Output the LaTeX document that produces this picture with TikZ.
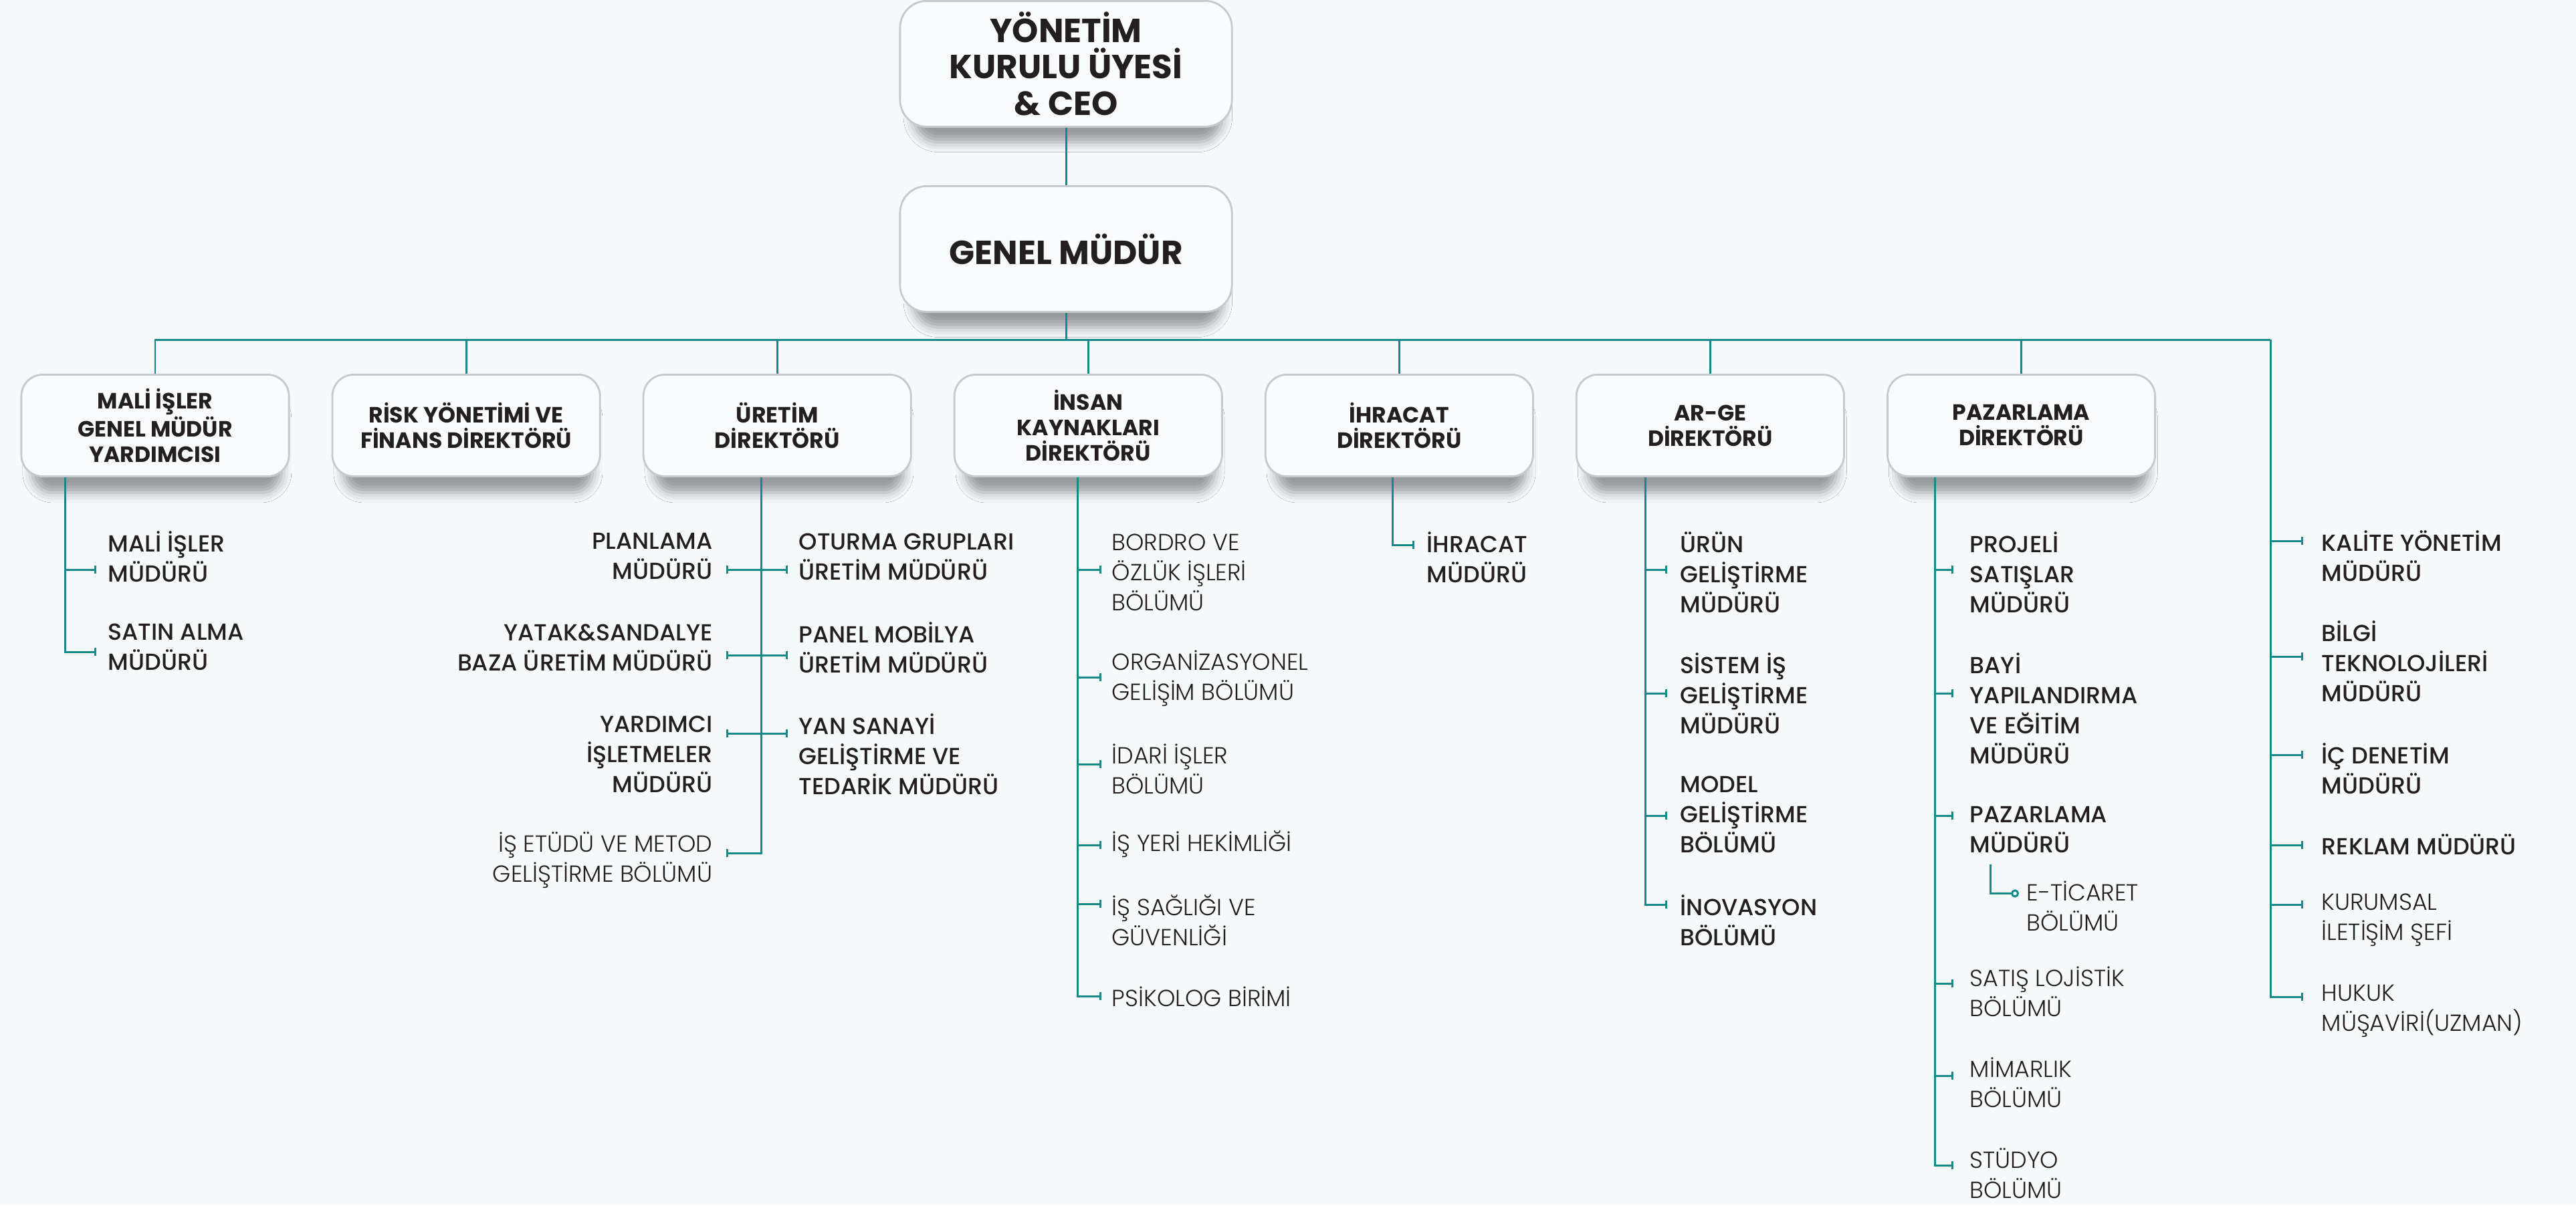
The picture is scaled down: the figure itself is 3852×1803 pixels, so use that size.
\documentclass[tikz,border=0pt]{standalone}
\usepackage{fontspec}
\setmainfont{Poppins}
\IfFontExistsTF{Poppins Medium}{\newfontfamily\medfont{Poppins Medium}}{\newcommand{\medfont}{\bfseries}}
\IfFontExistsTF{Poppins Light}{\newfontfamily\bookfont{Poppins Light}}{\newcommand{\bookfont}{\mdseries}}
\usepackage{xcolor}
\usetikzlibrary{positioning, arrows.meta, shadows.blur}
\definecolor{teal1}{HTML}{17898A}
\definecolor{bgcol}{HTML}{F7FAFB}
\definecolor{boxfill}{HTML}{F9FBFC}
\definecolor{boxline}{HTML}{C6CACD}
\definecolor{ink}{HTML}{231F20}
\tikzstyle{dirbox} = [rectangle, rounded corners=0.32cm, minimum width=4cm, minimum height=1.52cm, align=center, draw=boxline, line width=0.8pt, fill=boxfill, text=ink, font=\bfseries\fontsize{9.4}{10.8}\selectfont, blur shadow={shadow xshift=0.03cm, shadow yshift=-0.32cm, shadow opacity=38, shadow blur radius=0.16cm, shadow scale=0.93}]
\tikzstyle{topbox} = [dirbox, minimum width=4.96cm, minimum height=1.88cm, rounded corners=0.4cm, font=\bfseries\fontsize{14.2}{15.4}\selectfont]
\tikzstyle{link} = [line width=0.85pt, draw=teal1]
\tikzstyle{spoke} = [link, -{Bar[width=0.12cm]}]
\tikzstyle{mgr} = [inner sep=0pt, align=left, anchor=west, text=ink, font=\medfont\fontsize{9.9}{12.8}\selectfont]
\tikzstyle{dept} = [mgr, font=\bookfont\fontsize{9.9}{12.8}\selectfont]
\tikzstyle{mgrl} = [mgr, align=right, anchor=east]
\tikzstyle{deptl} = [dept, align=right, anchor=east]

\begin{document}
\begin{tikzpicture}[x=0.01cm, y=-0.01cm, node distance=0.62cm]
        % Background
        \fill[bgcol] (0,0) rectangle (3852,1803);

        % Boxes
        \node (ceo) [topbox] at (1594,95) {YÖNETİM\\KURULU ÜYESİ\\\& CEO};
        \node (gm) [topbox, below=0.86cm of ceo] {GENEL MÜDÜR};
        \node (mali) [dirbox] at (232,636) {MALİ İŞLER\\GENEL MÜDÜR\\YARDIMCISI};
        \node (risk) [dirbox, right=of mali] {RİSK YÖNETİMİ VE\\FİNANS DİREKTÖRÜ};
        \node (uretim) [dirbox, right=of risk] {ÜRETİM\\DİREKTÖRÜ};
        \node (insan) [dirbox, right=of uretim] {İNSAN\\KAYNAKLARI\\DİREKTÖRÜ};
        \node (ihracat) [dirbox, right=of insan] {İHRACAT\\DİREKTÖRÜ};
        \node (arge) [dirbox, right=of ihracat] {AR-GE\\DİREKTÖRÜ};
        \node (pazar) [dirbox, right=of arge] {PAZARLAMA\\DİREKTÖRÜ};

        % Trunks
        \coordinate (bus) at (1594,508);
        \coordinate (t1) at ([xshift=0.67cm]mali.south west);
        \coordinate (t3) at ([xshift=-0.24cm]uretim.south);
        \coordinate (t4) at ([xshift=-0.16cm]insan.south);
        \coordinate (t5) at ([xshift=-0.1cm]ihracat.south);
        \coordinate (t6) at ([xshift=1.05cm]arge.south west);
        \coordinate (t7) at ([xshift=0.72cm]pazar.south west);
        \coordinate (t8) at (3395,508);

        % Mali isler
        \coordinate (malimd-t) at (144,852);
        \coordinate (satinalma-t) at (144,975);
        \node (malimd) [mgr] at (161,832) {MALİ İŞLER\\MÜDÜRÜ};
        \node (satinalma) [mgr] at (161,967) {SATIN ALMA\\MÜDÜRÜ};

        % Uretim
        \coordinate (planlama-t) at (1086,852);
        \coordinate (oturma-t) at (1178,852);
        \coordinate (yatak-t) at (1086,980);
        \coordinate (panel-t) at (1178,980);
        \coordinate (yardimci-t) at (1086,1097);
        \coordinate (yansanayi-t) at (1178,1097);
        \coordinate (isetudu-t) at (1086,1276);
        \node (planlama) [mgrl] at (1066,832) {PLANLAMA\\MÜDÜRÜ};
        \node (oturma) [mgr] at (1194,832) {OTURMA GRUPLARI\\ÜRETİM MÜDÜRÜ};
        \node (yatak) [mgrl] at (1066,968) {YATAK\&SANDALYE\\BAZA ÜRETİM MÜDÜRÜ};
        \node (panel) [mgr] at (1194,968) {PANEL MOBİLYA\\ÜRETİM MÜDÜRÜ};
        \node (yardimci) [mgrl] at (1066,1128) {YARDIMCI\\İŞLETMELER\\MÜDÜRÜ};
        \node (yansanayi) [mgr] at (1194,1128) {YAN SANAYİ\\GELİŞTİRME VE\\TEDARİK MÜDÜRÜ};
        \node (isetudu) [deptl] at (1066,1286) {İŞ ETÜDÜ VE METOD\\GELİŞTİRME BÖLÜMÜ};

        % Insan kaynaklari
        \coordinate (bordro-t) at (1647,852);
        \coordinate (orgdev-t) at (1647,1013);
        \coordinate (idari-t) at (1647,1143);
        \coordinate (hekim-t) at (1647,1264);
        \coordinate (isg-t) at (1647,1352);
        \coordinate (psikolog-t) at (1647,1490);
        \node (bordro) [dept] at (1662,856) {BORDRO VE\\ÖZLÜK İŞLERİ\\BÖLÜMÜ};
        \node (orgdev) [dept] at (1662,1014) {ORGANİZASYONEL\\GELİŞİM BÖLÜMÜ};
        \node (idari) [dept] at (1662,1150) {İDARİ İŞLER\\BÖLÜMÜ};
        \node (hekim) [dept] at (1662,1262) {İŞ YERİ HEKİMLİĞİ};
        \node (isg) [dept] at (1662,1376) {İŞ SAĞLIĞI VE\\GÜVENLİĞİ};
        \node (psikolog) [dept] at (1662,1490) {PSİKOLOG BİRİMİ};

        % Ihracat
        \coordinate (ihrmd-t) at (2115,815);
        \node (ihrmd) [mgr] at (2133,833) {İHRACAT\\MÜDÜRÜ};

        % Ar-Ge
        \coordinate (urun-t) at (2493,852);
        \coordinate (sistem-t) at (2493,1037);
        \coordinate (model-t) at (2493,1220);
        \coordinate (inovasyon-t) at (2493,1353);
        \node (urun) [mgr] at (2512,856) {ÜRÜN\\GELİŞTİRME\\MÜDÜRÜ};
        \node (sistem) [mgr] at (2512,1037) {SİSTEM İŞ\\GELİŞTİRME\\MÜDÜRÜ};
        \node (model) [mgr] at (2512,1218) {MODEL\\GELİŞTİRME\\BÖLÜMÜ};
        \node (inovasyon) [mgr] at (2512,1376) {İNOVASYON\\BÖLÜMÜ};

        % Pazarlama
        \coordinate (projeli-t) at (2921,852);
        \coordinate (bayi-t) at (2921,1037);
        \coordinate (pazmd-t) at (2921,1220);
        \coordinate (lojistik-t) at (2921,1471);
        \coordinate (mimarlik-t) at (2921,1609);
        \coordinate (studyo-t) at (2921,1743);
        \coordinate (eticaret-a) at (2976,1293);
        \coordinate (eticaret-t) at (3019,1336);
        \node (projeli) [mgr] at (2945,856) {PROJELİ\\SATIŞLAR\\MÜDÜRÜ};
        \node (bayi) [mgr] at (2945,1059) {BAYİ\\YAPILANDIRMA\\VE EĞİTİM\\MÜDÜRÜ};
        \node (pazmd) [mgr] at (2945,1241) {PAZARLAMA\\MÜDÜRÜ};
        \node (eticaret) [dept] at (3030,1355) {E-TİCARET\\BÖLÜMÜ};
        \node (lojistik) [dept] at (2945,1483) {SATIŞ LOJİSTİK\\BÖLÜMÜ};
        \node (mimarlik) [dept] at (2945,1619) {MİMARLIK\\BÖLÜMÜ};
        \node (studyo) [dept] at (2945,1755) {STÜDYO\\BÖLÜMÜ};

        % Dogrudan bagli
        \coordinate (kalite-t) at (3444,809);
        \coordinate (bilgi-t) at (3444,982);
        \coordinate (icdenetim-t) at (3444,1129);
        \coordinate (reklam-t) at (3444,1264);
        \coordinate (kurumsal-t) at (3444,1353);
        \coordinate (hukuk-t) at (3444,1491);
        \node (kalite) [mgr] at (3471,831) {KALİTE YÖNETİM\\MÜDÜRÜ};
        \node (bilgi) [mgr] at (3471,989) {BİLGİ\\TEKNOLOJİLERİ\\MÜDÜRÜ};
        \node (icdenetim) [mgr] at (3471,1149) {İÇ DENETİM\\MÜDÜRÜ};
        \node (reklam) [mgr] at (3471,1263) {REKLAM MÜDÜRÜ};
        \node (kurumsal) [dept] at (3471,1376) {KURUMSAL\\İLETİŞİM ŞEFİ};
        \node (hukuk) [dept] at (3471,1512) {HUKUK\\MÜŞAVİRİ(UZMAN)};

        % Lines
        \draw [link] (ceo) -- (gm);
        \draw [link] (gm) -- (gm |- bus);
        \draw [link] (mali.north) |- (t8);
        \draw [link] (risk.north) -- (risk.north |- bus);
        \draw [link] (uretim.north) -- (uretim.north |- bus);
        \draw [link] (insan.north) -- (insan.north |- bus);
        \draw [link] (ihracat.north) -- (ihracat.north |- bus);
        \draw [link] (arge.north) -- (arge.north |- bus);
        \draw [link] (pazar.north) -- (pazar.north |- bus);

        \draw [spoke] (t1) |- (satinalma-t);
        \draw [spoke] (t1 |- malimd-t) -- (malimd-t);

        \draw [spoke] (t3) |- (isetudu-t);
        \draw [spoke] (t3 |- planlama-t) -- (planlama-t);
        \draw [spoke] (t3 |- oturma-t) -- (oturma-t);
        \draw [spoke] (t3 |- yatak-t) -- (yatak-t);
        \draw [spoke] (t3 |- panel-t) -- (panel-t);
        \draw [spoke] (t3 |- yardimci-t) -- (yardimci-t);
        \draw [spoke] (t3 |- yansanayi-t) -- (yansanayi-t);

        \draw [spoke] (t4) |- (psikolog-t);
        \draw [spoke] (t4 |- bordro-t) -- (bordro-t);
        \draw [spoke] (t4 |- orgdev-t) -- (orgdev-t);
        \draw [spoke] (t4 |- idari-t) -- (idari-t);
        \draw [spoke] (t4 |- hekim-t) -- (hekim-t);
        \draw [spoke] (t4 |- isg-t) -- (isg-t);

        \draw [spoke] (t5) |- (ihrmd-t);

        \draw [spoke] (t6) |- (inovasyon-t);
        \draw [spoke] (t6 |- urun-t) -- (urun-t);
        \draw [spoke] (t6 |- sistem-t) -- (sistem-t);
        \draw [spoke] (t6 |- model-t) -- (model-t);

        \draw [spoke] (t7) |- (studyo-t);
        \draw [spoke] (t7 |- projeli-t) -- (projeli-t);
        \draw [spoke] (t7 |- bayi-t) -- (bayi-t);
        \draw [spoke] (t7 |- pazmd-t) -- (pazmd-t);
        \draw [spoke] (t7 |- lojistik-t) -- (lojistik-t);
        \draw [spoke] (t7 |- mimarlik-t) -- (mimarlik-t);
        \draw [link, -{Circle[open, length=0.12cm]}] (eticaret-a) |- (eticaret-t);

        \draw [spoke] (t8) |- (hukuk-t);
        \draw [spoke] (t8 |- kalite-t) -- (kalite-t);
        \draw [spoke] (t8 |- bilgi-t) -- (bilgi-t);
        \draw [spoke] (t8 |- icdenetim-t) -- (icdenetim-t);
        \draw [spoke] (t8 |- reklam-t) -- (reklam-t);
        \draw [spoke] (t8 |- kurumsal-t) -- (kurumsal-t);
\end{tikzpicture}
\end{document}
